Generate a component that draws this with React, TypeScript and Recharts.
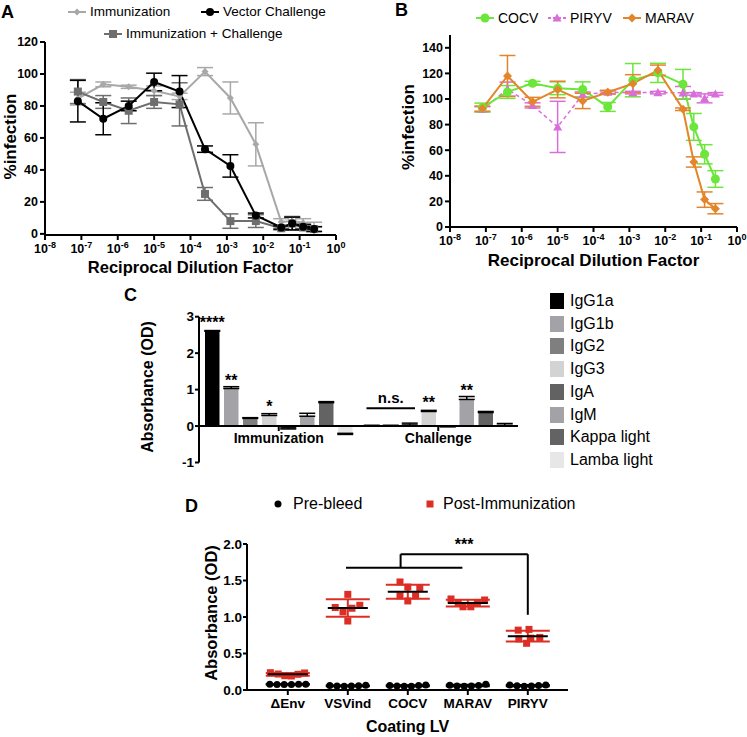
import React from 'react';
import {
  LineChart, Line, XAxis, YAxis, ErrorBar, Legend, BarChart, Bar,
  ReferenceLine, ReferenceDot, LabelList, ScatterChart, Scatter,
} from 'recharts';

const FONT = 'Arial, "Liberation Sans", Helvetica, sans-serif';

// ---------------- Panel A / B : neutralisation curves ----------------
const dilutions = [8e-8, 4e-7, 2e-6, 1e-5, 5e-5, 2.5e-4, 1.25e-3, 6.25e-3, 3.125e-2, 6.25e-2, 0.125, 0.25];
const decadeExponents = [-8, -7, -6, -5, -4, -3, -2, -1, 0];
const infectionTicksA = [0, 20, 40, 60, 80, 100, 120];
const infectionTicksB = [0, 20, 40, 60, 80, 100, 120, 140];

const seriesNamesA = ['Immunization', 'Vector Challenge', 'Immunization + Challenge'];
const immunizationPct = [84.6, 93.5, 92, 89.5, 86, 101.5, 85, 56, 7.5, 8, 7, 3.3];
const immunizationErr = [4, 1.5, 1, 3, 2, 2.5, 10, 13.5, 2, 3, 2.5, 4];
const vectorChallengePct = [83, 72, 80, 95, 89, 53, 42.5, 11.5, 4, 6.5, 4.5, 3];
const vectorChallengeErr = [13, 10, 3, 5.5, 10, 2, 7, 1.5, 1, 4, 1.5, 1.5];
const immChallengePct = [89, 82.5, 77, 82.5, 81, 25, 8, 8, 3.5, 6.5, 4, 3];
const immChallengeErr = [7.5, 4, 8, 4, 13.5, 4, 4.5, 4, 1, 4, 1.5, 1.5];

const seriesNamesB = ['COCV', 'PIRYV', 'MARAV'];
const cocvPct = [93.3, 105.5, 112.3, 108.4, 107.4, 93.8, 114.7, 120.4, 111.6, 78.2, 56.8, 37.5];
const cocvErr = [3.5, 5, 1.5, 5, 6, 3.5, 13, 7.5, 11.5, 10.5, 7.5, 6.5];
const piryvPct = [92, 107.7, 95, 78.2, 103.5, 105.3, 105, 105, 104.8, 104, 100.5, 104];
const piryvErr = [2, 5.5, 2, 20, 2, 1, 1, 1, 5, 1, 3.5, 1];
const maravPct = [92.5, 118, 97.8, 107.4, 98.5, 105.3, 112, 122.5, 92, 50.8, 21.4, 14.3];
const maravErr = [2, 16, 3.5, 6.5, 6, 1.5, 7, 4, 1, 4, 6, 4];

// ---------------- Panel C : isotypes ----------------
const groupsC = ['Immunization', 'Challenge'];
const isotypes = ['IgG1a', 'IgG1b', 'IgG2', 'IgG3', 'IgA', 'IgM', 'Kappa light', 'Lamba light'];
const absorbanceByIsotype = [
  [2.6, 0.01], [1.03, 0.01], [0.21, 0.03], [0.29, 0.4],
  [-0.05, -0.01], [0.27, 0.73], [0.64, 0.37], [-0.2, 0.02],
];
const absorbanceErr = [
  [0.02, 0.01], [0.05, 0.01], [0.02, 0.05], [0.05, 0.03],
  [0.03, 0.01], [0.08, 0.08], [0.03, 0.03], [0.03, 0.05],
];
const significance = [
  ['****', ''], ['**', ''], ['', ''], ['*', '**'],
  ['', ''], ['', '**'], ['', ''], ['', ''],
];
const absorbanceTicksC = [-1, 0, 1, 2, 3];

// ---------------- Panel D : ELISA on coating LV ----------------
const coatingLV = ['ΔEnv', 'VSVind', 'COCV', 'MARAV', 'PIRYV'];
const groupNamesD = ['Pre-bleed', 'Post-Immunization'];
const preBleed = [
  [0.078, 0.076, 0.075, 0.077, 0.078, 0.079],
  [0.062, 0.056, 0.052, 0.054, 0.058, 0.064],
  [0.062, 0.055, 0.05, 0.052, 0.06, 0.068],
  [0.065, 0.055, 0.05, 0.055, 0.06, 0.078],
  [0.068, 0.058, 0.05, 0.055, 0.06, 0.07],
];
const postImmunization = [
  [0.237, 0.219, 0.196, 0.192, 0.215, 0.233],
  [1.13, 1.31, 0.945, 1.07, 1.12, 1.16],
  [1.48, 1.41, 1.39, 1.29, 1.22, 1.29],
  [1.247, 1.233, 1.196, 1.14, 1.14, 1.187],
  [0.82, 0.83, 0.7, 0.71, 0.72, 0.64],
];
const preJitter = [-0.3, -0.18, -0.06, 0.06, 0.18, 0.3];
const postJitter = [
  [-0.29, -0.16, -0.05, 0.06, 0.17, 0.28],
  [-0.21, 0, 0, -0.08, 0.07, 0.2],
  [-0.13, 0, 0.2, -0.13, 0, 0.13],
  [-0.28, 0.28, -0.16, -0.08, 0.05, 0.16],
  [-0.16, 0.02, -0.15, 0.05, 0.2, -0.02],
];
const absorbanceTicksD = [0, 0.5, 1, 1.5, 2];
// significance bracket (data units)
const bracketLow = { from: 0.97, to: 2.91, y: 1.675 };
const bracketHigh = { from: 1.88, to: 4, y: 1.86, drop: 1.03 };

// ---------------- colours ----------------
const colorsA = ['#a8a8a8', '#000000', '#6e6e6e'];
const colorsB = ['#6ce63a', '#d86fd9', '#e3852b'];
const isotypeColors = ['#000000', '#a3a3a7', '#7f7f7f', '#d3d3d3', '#626262', '#a3a3a7', '#636363', '#e7e7e7'];
const RED = '#dc2e24';

// ---------------- derived tables ----------------
const tableA = dilutions.map((d, i) => ({
  lx: Math.log10(d),
  imm: immunizationPct[i], immErr: immunizationErr[i],
  vec: vectorChallengePct[i], vecErr: vectorChallengeErr[i],
  ic: immChallengePct[i], icErr: immChallengeErr[i],
}));
const tableB = dilutions.map((d, i) => ({
  lx: Math.log10(d),
  cocv: cocvPct[i], cocvErr: cocvErr[i],
  piryv: piryvPct[i], piryvErr: piryvErr[i],
  marav: maravPct[i], maravErr: maravErr[i],
}));
const tableC = groupsC.map((g, gi) => {
  const row: any = { group: g };
  isotypes.forEach((_, k) => {
    const v = absorbanceByIsotype[k][gi];
    const e = absorbanceErr[k][gi];
    row[`v${k}`] = v;
    row[`e${k}`] = v >= 0 ? [0, e] : [e, 0];
    row[`s${k}`] = significance[k][gi];
  });
  return row;
});
const mean = (a: number[]) => a.reduce((s, v) => s + v, 0) / a.length;
const sdev = (a: number[]) => {
  const m = mean(a);
  return Math.sqrt(a.reduce((s, v) => s + (v - m) * (v - m), 0) / (a.length - 1));
};
const preData = preBleed.flatMap((vals, i) => vals.map((y, j) => ({ x: i + preJitter[j], y })));
const postData = postImmunization.flatMap((vals, i) => vals.map((y, j) => ({ x: i + postJitter[i][j], y })));
const preSummary = preBleed.map((vals, i) => ({ x: i, y: mean(vals), sd: sdev(vals) }));
const postSummary = postImmunization.map((vals, i) => ({ x: i, y: mean(vals), sd: sdev(vals) }));

// ---------------- shared pieces ----------------
const AX = { stroke: '#000', strokeWidth: 2 };
const tickFont = (size: number) => ({ fill: '#000', fontSize: size, fontWeight: 700, fontFamily: FONT });

const Marker = ({ kind, cx, cy, color, size }: any) => {
  if (kind === 'circle') return <circle cx={cx} cy={cy} r={size} fill={color} />;
  if (kind === 'square') return <rect x={cx - size} y={cy - size} width={size * 2} height={size * 2} fill={color} />;
  if (kind === 'diamond') return <path d={`M${cx},${cy - size}L${cx + size},${cy}L${cx},${cy + size}L${cx - size},${cy}Z`} fill={color} />;
  return <path d={`M${cx},${cy - size}L${cx + size},${cy + size * 0.8}L${cx - size},${cy + size * 0.8}Z`} fill={color} />;
};
const makeDot = (kind: string, color: string, size: number) => (p: any) => {
  const { cx, cy, index } = p;
  if (cx == null || cy == null) return <g key={`n${index}`} />;
  return <Marker key={`m${index}`} kind={kind} cx={cx} cy={cy} color={color} size={size} />;
};

const PowerTick = ({ x, y, payload }: any) => (
  <text x={x} y={y + 11} textAnchor="middle" fontFamily={FONT} fontWeight={700} fontSize={12.5} fill="#000">
    10<tspan dy={-5} fontSize={9}>{String(payload.value)}</tspan>
  </text>
);

const XTitle = (props: any) => {
  const vb = props.viewBox || { x: 0, y: 0, width: 0 };
  return (
    <text x={vb.x + vb.width / 2} y={vb.y + props.shift} textAnchor="middle" fontFamily={FONT} fontWeight={700} fontSize={props.fsz} fill="#000">
      {props.caption}
    </text>
  );
};
const YTitle = (props: any) => {
  const vb = props.viewBox || { x: 0, y: 0, height: 0 };
  const cx = vb.x + props.px;
  const cy = vb.y + vb.height / 2 + (props.py || 0);
  return (
    <text transform={`translate(${cx},${cy}) rotate(-90)`} textAnchor="middle" dominantBaseline="central" fontFamily={FONT} fontWeight={700} fontSize={props.fsz} fill="#000">
      {props.caption}
    </text>
  );
};

const LegendItem = ({ left, top, kind, color, size, dashed, label, fontSize }: any) => (
  <div style={{ position: 'absolute', left, top, display: 'flex', alignItems: 'center', whiteSpace: 'nowrap', height: 16, fontFamily: FONT, fontSize, color: '#000' }}>
    <svg width={18} height={16} style={{ display: 'block' }}>
      <line x1={0} x2={18} y1={8} y2={8} stroke={color} strokeWidth={2} strokeDasharray={dashed ? '3 2' : undefined} />
      <Marker kind={kind} cx={9} cy={8} color={color} size={size} />
    </svg>
    <span style={{ marginLeft: 4, lineHeight: '16px' }}>{label}</span>
  </div>
);

const LegendA = () => (
  <div style={{ position: 'relative', width: 370, height: 42 }}>
    <LegendItem left={68} top={4} kind="diamond" color={colorsA[0]} size={3.5} label={seriesNamesA[0]} fontSize={13.5} />
    <LegendItem left={201} top={4} kind="circle" color={colorsA[1]} size={4} label={seriesNamesA[1]} fontSize={13.5} />
    <LegendItem left={104} top={26} kind="square" color={colorsA[2]} size={4} label={seriesNamesA[2]} fontSize={13.5} />
  </div>
);
const LegendB = () => (
  <div style={{ position: 'relative', width: 377, height: 35 }}>
    <LegendItem left={106} top={10} kind="circle" color={colorsB[0]} size={4.5} label={seriesNamesB[0]} fontSize={14} />
    <LegendItem left={178} top={10} kind="triangle" color={colorsB[1]} size={4.5} dashed label={seriesNamesB[1]} fontSize={14} />
    <LegendItem left={253} top={10} kind="diamond" color={colorsB[2]} size={4.5} label={seriesNamesB[2]} fontSize={14} />
  </div>
);
const LegendC = () => (
  <div style={{ position: 'relative', width: 617, height: 200 }}>
    {isotypes.map((iso, k) => (
      <div key={iso} style={{ position: 'absolute', left: 420, top: 16 + k * 22.7 - 9, display: 'flex', alignItems: 'center', height: 18, fontFamily: FONT, fontSize: 16, color: '#000', whiteSpace: 'nowrap' }}>
        <div style={{ width: 14, height: 16, background: isotypeColors[k] }} />
        <span style={{ marginLeft: 6 }}>{iso}</span>
      </div>
    ))}
  </div>
);
const LegendD = () => (
  <div style={{ position: 'relative', width: 430, height: 30, fontFamily: FONT, fontSize: 16, color: '#000' }}>
    <svg width={10} height={10} style={{ position: 'absolute', left: 123, top: 9 }}>
      <circle cx={5} cy={5} r={3.5} fill="#000" />
    </svg>
    <span style={{ position: 'absolute', left: 143, top: 5, lineHeight: '18px', whiteSpace: 'nowrap' }}>{groupNamesD[0]}</span>
    <svg width={10} height={10} style={{ position: 'absolute', left: 275, top: 9 }}>
      <rect x={1.5} y={1.5} width={7} height={7} fill={RED} />
    </svg>
    <span style={{ position: 'absolute', left: 293, top: 5, lineHeight: '18px', whiteSpace: 'nowrap' }}>{groupNamesD[1]}</span>
  </div>
);

// ---------------- panel C helpers ----------------
const BAR = 14.5;
const GAP = 4.5;
const SigLabel = (p: any) => {
  const vb = p.viewBox || p;
  if (!p.value) return null;
  return (
    <text x={vb.x + vb.width / 2} y={vb.y - 3} textAnchor="middle" fontFamily={FONT} fontWeight={700} fontSize={16} fill="#000">
      {p.value}
    </text>
  );
};
const GroupLabel = ({ cx, cy, name }: any) => (
  <g>
    <line x1={cx} x2={cx} y1={cy} y2={cy + 5} stroke="#000" strokeWidth={2} />
    <text x={cx} y={cy + 17} textAnchor="middle" fontFamily={FONT} fontWeight={700} fontSize={14} fill="#000">{name}</text>
  </g>
);
const NsBracket = ({ cx, cy }: any) => {
  const groupW = isotypes.length * BAR + (isotypes.length - 1) * GAP;
  const start = cx - groupW / 2;
  const end = start + 3 * BAR + 2 * GAP;
  return (
    <g>
      <line x1={start + 2} x2={end - 2} y1={cy} y2={cy} stroke="#000" strokeWidth={2} />
      <text x={(start + end) / 2} y={cy - 5} textAnchor="middle" fontFamily={FONT} fontWeight={700} fontSize={15} fill="#000">n.s.</text>
    </g>
  );
};

// ---------------- panel D helpers ----------------
const PreDot = (p: any) => <circle cx={p.cx} cy={p.cy} r={3.5} fill="#000" />;
const PostSquare = (p: any) => <rect x={p.cx - 3.5} y={p.cy - 3.5} width={7} height={7} fill={RED} />;
const MeanLine = (p: any) => <line x1={p.cx - 20} x2={p.cx + 20} y1={p.cy} y2={p.cy} stroke="#000" strokeWidth={2} />;
const StarsDot = ({ cx, cy }: any) => (
  <text x={cx} y={cy - 4} textAnchor="middle" fontFamily={FONT} fontWeight={700} fontSize={16} fill="#000">***</text>
);

const PanelLetter = ({ left, top, children }: any) => (
  <div style={{ position: 'absolute', left, top, fontFamily: FONT, fontWeight: 700, fontSize: 18, lineHeight: '18px', color: '#000', zIndex: 5 }}>{children}</div>
);

export default function App() {
  return (
    <div style={{ position: 'absolute', left: 0, top: 0, width: 747, height: 737, background: '#fff' }}>
      {/* Panel A */}
      <div style={{ position: 'absolute', left: 0, top: 0 }}>
        <LineChart width={370} height={290} data={tableA} margin={{ top: 42, right: 34, bottom: 15, left: 0 }}>
          <XAxis type="number" dataKey="lx" domain={[-8, 0]} ticks={decadeExponents} interval={0} tick={<PowerTick />}
            tickSize={5} height={40} axisLine={AX} tickLine={AX}
            label={<XTitle caption="Reciprocal Dilution Factor" shift={38} fsz={16.5} />} />
          <YAxis type="number" domain={[0, 120]} ticks={infectionTicksA} interval={0} width={45} tickSize={5} tickMargin={2}
            tick={tickFont(12.5)} axisLine={AX} tickLine={AX}
            label={<YTitle caption="%infection" px={10} py={-2} fsz={17} />} />
          <Legend layout="horizontal" verticalAlign="middle" align="center" wrapperStyle={{ left: 0, top: 0, width: 370, height: 42 }} content={<LegendA />} />
          <Line dataKey="imm" name={seriesNamesA[0]} stroke={colorsA[0]} strokeWidth={2} dot={makeDot('diamond', colorsA[0], 3.5)} activeDot={false} isAnimationActive={false}>
            <ErrorBar dataKey="immErr" direction="y" width={8} stroke={colorsA[0]} strokeWidth={1.5} />
          </Line>
          <Line dataKey="ic" name={seriesNamesA[2]} stroke={colorsA[2]} strokeWidth={2} dot={makeDot('square', colorsA[2], 4)} activeDot={false} isAnimationActive={false}>
            <ErrorBar dataKey="icErr" direction="y" width={8} stroke={colorsA[2]} strokeWidth={1.5} />
          </Line>
          <Line dataKey="vec" name={seriesNamesA[1]} stroke={colorsA[1]} strokeWidth={2} dot={makeDot('circle', colorsA[1], 4)} activeDot={false} isAnimationActive={false}>
            <ErrorBar dataKey="vecErr" direction="y" width={8} stroke={colorsA[1]} strokeWidth={1.5} />
          </Line>
        </LineChart>
      </div>

      {/* Panel B */}
      <div style={{ position: 'absolute', left: 370, top: 0 }}>
        <LineChart width={377} height={290} data={tableB} margin={{ top: 35, right: 10, bottom: 23, left: 0 }}>
          <XAxis type="number" dataKey="lx" domain={[-8, 0]} ticks={decadeExponents} interval={0} tick={<PowerTick />}
            tickSize={5} height={40} axisLine={AX} tickLine={AX}
            label={<XTitle caption="Reciprocal Dilution Factor" shift={39} fsz={17} />} />
          <YAxis type="number" domain={[0, 150]} ticks={infectionTicksB} interval={0} width={80} tickSize={5} tickMargin={2}
            tick={tickFont(12.5)} axisLine={AX} tickLine={AX}
            label={<YTitle caption="%infection" px={38} py={-4} fsz={17} />} />
          <Legend layout="horizontal" verticalAlign="middle" align="center" wrapperStyle={{ left: 0, top: 0, width: 377, height: 35 }} content={<LegendB />} />
          <Line dataKey="piryv" name={seriesNamesB[1]} stroke={colorsB[1]} strokeWidth={1.5} strokeDasharray="4 3" dot={makeDot('triangle', colorsB[1], 4.5)} activeDot={false} isAnimationActive={false}>
            <ErrorBar dataKey="piryvErr" direction="y" width={8} stroke={colorsB[1]} strokeWidth={1.5} />
          </Line>
          <Line dataKey="cocv" name={seriesNamesB[0]} stroke={colorsB[0]} strokeWidth={2} dot={makeDot('circle', colorsB[0], 4.5)} activeDot={false} isAnimationActive={false}>
            <ErrorBar dataKey="cocvErr" direction="y" width={8} stroke={colorsB[0]} strokeWidth={1.5} />
          </Line>
          <Line dataKey="marav" name={seriesNamesB[2]} stroke={colorsB[2]} strokeWidth={2} dot={makeDot('diamond', colorsB[2], 4.5)} activeDot={false} isAnimationActive={false}>
            <ErrorBar dataKey="maravErr" direction="y" width={8} stroke={colorsB[2]} strokeWidth={1.5} />
          </Line>
        </LineChart>
      </div>

      {/* Panel C */}
      <div style={{ position: 'absolute', left: 130, top: 285 }}>
        <BarChart width={617} height={200} data={tableC} barGap={GAP} margin={{ top: 31.7, right: 229, bottom: 22.5, left: 0 }}>
          <XAxis dataKey="group" hide />
          <YAxis type="number" domain={[-1, 3]} ticks={absorbanceTicksC} interval={0} width={69} tickSize={4} tickMargin={1}
            tick={tickFont(13.5)} axisLine={AX} tickLine={AX}
            label={<YTitle caption="Absorbance (OD)" px={17} py={-2.6} fsz={16} />} />
          <Legend layout="horizontal" verticalAlign="middle" align="center" wrapperStyle={{ left: 0, top: 0, width: 617, height: 200 }} content={<LegendC />} />
          {isotypes.map((iso, k) => (
            <Bar key={iso} dataKey={`v${k}`} name={iso} fill={isotypeColors[k]} barSize={BAR} isAnimationActive={false}>
              <ErrorBar dataKey={`e${k}`} direction="y" width={8} stroke="#000" strokeWidth={1.5} />
              <LabelList dataKey={`s${k}`} content={SigLabel} />
            </Bar>
          ))}
          <ReferenceLine y={0} stroke="#000" strokeWidth={2} />
          {groupsC.map((g) => (
            <ReferenceDot key={g} x={g} y={0} r={0} shape={(p: any) => <GroupLabel {...p} name={g} />} />
          ))}
          <ReferenceDot x={groupsC[1]} y={0.49} r={0} shape={(p: any) => <NsBracket {...p} />} />
        </BarChart>
      </div>

      {/* Panel D */}
      <div style={{ position: 'absolute', left: 150, top: 490 }}>
        <ScatterChart width={430} height={247} margin={{ top: 54, right: 12, bottom: 0, left: 0 }}>
          <XAxis type="number" dataKey="x" domain={[-0.68, 4.67]} ticks={[0, 1, 2, 3, 4]} interval={0}
            tickFormatter={(v: number) => coatingLV[Math.round(v)] ?? ''} height={47} tickSize={5} tickMargin={3}
            tick={tickFont(13.5)} axisLine={AX} tickLine={AX}
            label={<XTitle caption="Coating LV" shift={42} fsz={16} />} />
          <YAxis type="number" dataKey="y" domain={[0, 2]} ticks={absorbanceTicksD} interval={0}
            tickFormatter={(v: number) => v.toFixed(1)} width={97} tickSize={4} tickMargin={1}
            tick={tickFont(13.5)} axisLine={AX} tickLine={AX}
            label={<YTitle caption="Absorbance (OD)" px={61} py={-4} fsz={16.5} />} />
          <Legend layout="horizontal" verticalAlign="middle" align="center" wrapperStyle={{ left: 0, top: 0, width: 430, height: 30 }} content={<LegendD />} />
          <ReferenceLine segment={[{ x: bracketLow.from, y: bracketLow.y }, { x: bracketLow.to, y: bracketLow.y }]} stroke="#000" strokeWidth={2} ifOverflow="visible" />
          <ReferenceLine segment={[{ x: bracketHigh.from, y: bracketLow.y }, { x: bracketHigh.from, y: bracketHigh.y }]} stroke="#000" strokeWidth={2} ifOverflow="visible" />
          <ReferenceLine segment={[{ x: bracketHigh.from, y: bracketHigh.y }, { x: bracketHigh.to, y: bracketHigh.y }]} stroke="#000" strokeWidth={2} ifOverflow="visible" />
          <ReferenceLine segment={[{ x: bracketHigh.to, y: bracketHigh.y }, { x: bracketHigh.to, y: bracketHigh.drop }]} stroke="#000" strokeWidth={2} ifOverflow="visible" />
          <ReferenceDot x={(bracketHigh.from + bracketHigh.to) / 2} y={bracketHigh.y} r={0} shape={(p: any) => <StarsDot {...p} />} ifOverflow="visible" />
          <Scatter name={groupNamesD[0]} data={preData} shape={PreDot} isAnimationActive={false} />
          <Scatter name={groupNamesD[1]} data={postData} shape={PostSquare} isAnimationActive={false} />
          <Scatter data={postSummary} shape={MeanLine} isAnimationActive={false} legendType="none">
            <ErrorBar dataKey="sd" direction="y" width={22} stroke={RED} strokeWidth={2} />
          </Scatter>
          <Scatter data={preSummary} shape={MeanLine} isAnimationActive={false} legendType="none">
            <ErrorBar dataKey="sd" direction="y" width={22} stroke="#000" strokeWidth={2} />
          </Scatter>
        </ScatterChart>
      </div>

      <PanelLetter left={1} top={3}>A</PanelLetter>
      <PanelLetter left={395} top={1}>B</PanelLetter>
      <PanelLetter left={124} top={286}>C</PanelLetter>
      <PanelLetter left={185} top={497}>D</PanelLetter>
    </div>
  );
}
